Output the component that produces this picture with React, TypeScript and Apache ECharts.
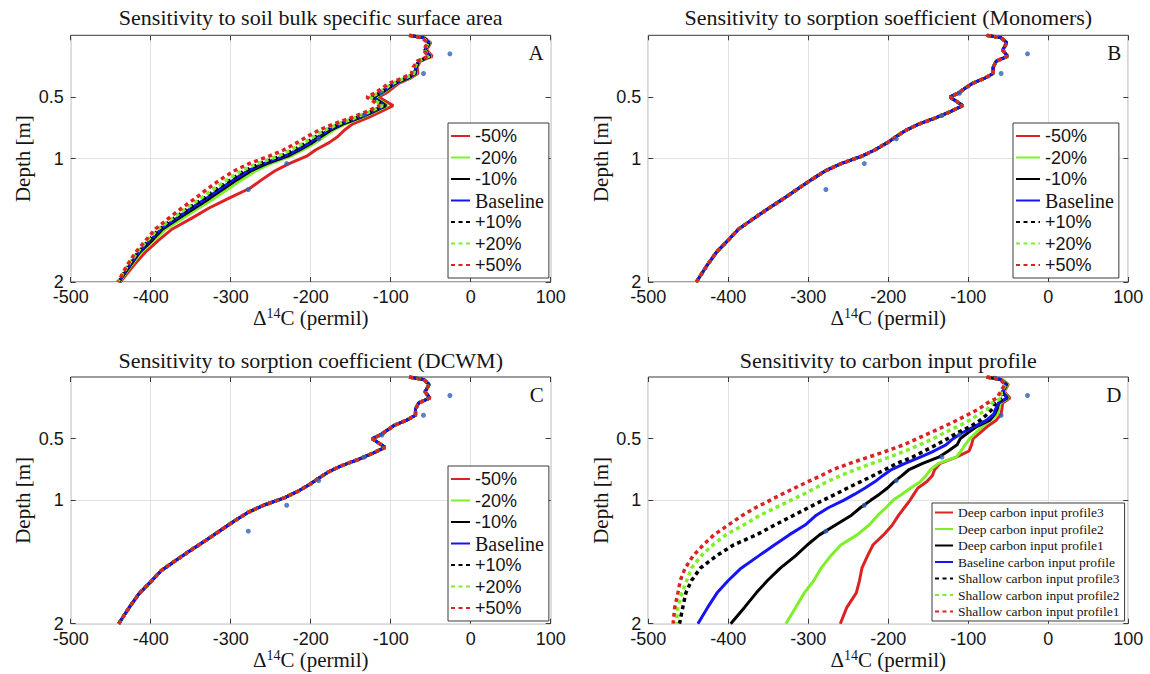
import React, { useEffect, useRef } from 'react';
import * as echarts from 'echarts';

// ---------- data ----------
const depthABC = [0, 0.02, 0.06, 0.12, 0.17, 0.21, 0.26, 0.31, 0.35, 0.39, 0.43, 0.47, 0.5, 0.57, 0.62, 0.67, 0.72, 0.77, 0.82, 0.87, 0.93, 0.98, 1.04, 1.1, 1.17, 1.24, 1.32, 1.4, 1.48, 1.57, 1.66, 1.76, 1.87, 2.0];

const baseline = [-77, -59, -52, -57, -51, -65, -69, -69, -80, -95, -104, -113, -123, -107, -123, -141, -162, -178, -190, -201, -217, -233, -259, -279, -296, -312, -330, -349, -367, -387, -400, -415, -427, -440];

const aMinus50 = [-77, -58, -50, -55, -48, -63, -67, -66, -76, -90, -98, -106, -115, -97, -113, -129, -148, -158, -166, -177, -194, -205, -227, -245, -261, -276, -302, -327, -348, -373, -390, -407, -422, -438];
const aMinus20 = [-77, -58, -51, -56, -50, -64, -68, -68, -78, -93, -102, -110, -120, -104, -120, -137, -157, -172, -183, -194, -210, -225, -250, -269, -286, -302, -320, -340, -359, -381, -396, -412, -425, -439];
const aMinus10 = [-77, -59, -52, -57, -51, -65, -68, -69, -79, -94, -103, -112, -122, -106, -122, -139, -160, -175, -187, -198, -214, -229, -255, -275, -292, -308, -326, -345, -364, -385, -398, -414, -426, -440];
const aPlus10 = [-77, -59, -52, -57, -51, -65, -69, -70, -81, -96, -105, -114, -124, -108, -125, -143, -164, -180, -193, -205, -221, -237, -263, -283, -300, -316, -333, -352, -370, -389, -402, -416, -428, -440];
const aPlus20 = [-77, -60, -53, -58, -52, -66, -70, -71, -83, -98, -107, -116, -126, -110, -127, -145, -166, -183, -196, -208, -225, -241, -267, -287, -304, -320, -337, -355, -372, -391, -404, -417, -429, -441];
const aPlus50 = [-77, -61, -54, -59, -53, -67, -72, -74, -87, -102, -111, -120, -130, -114, -131, -150, -172, -190, -204, -217, -234, -252, -277, -296, -313, -328, -344, -361, -377, -394, -406, -419, -430, -441];

// panels B and C: all seven runs coincide with the baseline
const bRuns = [baseline, baseline, baseline, baseline, baseline, baseline, baseline];
const cRuns = [baseline, baseline, baseline, baseline, baseline, baseline, baseline];
const aRuns = [aMinus50, aMinus20, aMinus10, baseline, aPlus10, aPlus20, aPlus50];

const depthD = [0, 0.02, 0.06, 0.12, 0.17, 0.21, 0.26, 0.3, 0.35, 0.4, 0.45, 0.5, 0.55, 0.6, 0.65, 0.7, 0.75, 0.8, 0.85, 0.9, 0.95, 1.0, 1.06, 1.12, 1.2, 1.28, 1.36, 1.45, 1.55, 1.65, 1.75, 1.87, 2.0];
const deep3 = [-77, -58, -50, -55, -48, -57, -58, -59, -65, -76, -85, -94, -96, -99, -115, -135, -142, -145, -152, -163, -168, -173, -180, -187, -195, -206, -219, -226, -233, -236, -240, -252, -260];
const deep2 = [-77, -59, -51, -56, -50, -60, -62, -63, -72, -82, -90, -98, -104, -109, -115, -137, -147, -153, -160, -172, -183, -194, -203, -213, -224, -239, -259, -272, -284, -293, -305, -316, -328];
const deep1 = [-77, -60, -52, -57, -51, -62, -64, -67, -73, -89, -100, -110, -114, -125, -137, -157, -174, -183, -193, -201, -211, -222, -235, -246, -266, -286, -301, -316, -335, -351, -365, -380, -397];
const baseD = [-69, -60, -53, -57, -52, -62, -66, -68, -77, -92, -107, -119, -128, -143, -160, -179, -196, -207, -217, -229, -242, -256, -275, -290, -304, -324, -342, -362, -384, -400, -414, -426, -438];
const shallow3 = [-77, -60, -53, -58, -56, -66, -70, -76, -85, -97, -113, -126, -140, -155, -170, -189, -204, -219, -235, -251, -266, -282, -300, -318, -342, -365, -393, -415, -435, -446, -453, -457, -461];
const shallow2 = [-77, -60, -53, -59, -58, -70, -76, -86, -98, -113, -129, -144, -161, -179, -199, -220, -241, -260, -277, -291, -306, -322, -341, -360, -381, -403, -419, -434, -446, -452, -458, -463, -465];
const shallow1 = [-77, -60, -54, -60, -64, -76, -87, -99, -114, -130, -147, -164, -181, -202, -225, -248, -269, -284, -301, -317, -333, -348, -366, -382, -400, -418, -431, -444, -454, -460, -463, -467, -469];
const dRuns = [deep3, deep2, deep1, baseD, shallow3, shallow2, shallow1];

const obsDepth = [0.15, 0.31, 0.47, 0.65, 0.84, 1.04, 1.25];
const obsValue = [-26, -59, -111, -133, -190, -230, -278];

const pctNames = ['-50%', '-20%', '-10%', 'Baseline', '+10%', '+20%', '+50%'];
const dNames = [
  'Deep carbon input profile3',
  'Deep carbon input profile2',
  'Deep carbon input profile1',
  'Baseline carbon input profile',
  'Shallow carbon input profile3',
  'Shallow carbon input profile2',
  'Shallow carbon input profile1',
];
const titles = [
  'Sensitivity to soil bulk specific surface area',
  'Sensitivity to sorption soefficient (Monomers)',
  'Sensitivity to sorption coefficient (DCWM)',
  'Sensitivity to carbon input profile',
];
const letters = ['A', 'B', 'C', 'D'];
const yTickValues = [0.5, 1, 2];
const xMin = -500;
const xMax = 100;
const xStep = 100;

// ---------- styling ----------
const SERIF = 'Liberation Serif';
const SANS = 'Liberation Sans';
const RED = '#dc2323';
const GREEN = '#7ef02a';
const BLACK = '#000000';
const BLUE = '#1414f5';
const OBS = '#2e62b8';
const GRIDC = '#e2e2e2';
const AXC = '#3a3a3a';
const TXT = '#151515';
const lineStyles = [
  { color: RED, dotted: false },
  { color: GREEN, dotted: false },
  { color: BLACK, dotted: false },
  { color: BLUE, dotted: false },
  { color: BLACK, dotted: true },
  { color: GREEN, dotted: true },
  { color: RED, dotted: true },
];
const GW = 480;
const GH = 246.7;
const gridPos = [
  [70.7, 35.3],
  [648.3, 35.3],
  [70.7, 377],
  [648.3, 377],
];

function buildOption() {
  const grid: any[] = [];
  const xAxis: any[] = [];
  const yAxis: any[] = [];
  const series: any[] = [];
  const graphic: any[] = [];
  const panelRuns = [aRuns, bRuns, cRuns, dRuns];
  const panelDepths = [depthABC, depthABC, depthABC, depthD];
  const panelNames = [pctNames, pctNames, pctNames, dNames];
  const noLine = { show: false, onZero: false };

  gridPos.forEach(([l, t], p) => {
    grid.push({
      left: l, top: t, width: GW, height: GH, show: true,
      borderColor: AXC, borderWidth: 1, backgroundColor: '#fff', containLabel: false,
    });
    xAxis.push({
      type: 'value', gridIndex: p, position: 'bottom', min: xMin, max: xMax, interval: xStep,
      axisLine: noLine,
      axisTick: { show: true, inside: true, length: 5, lineStyle: { color: AXC } },
      axisLabel: { fontFamily: SANS, fontSize: 18, color: TXT, margin: 6 },
      splitLine: { show: true, lineStyle: { color: GRIDC, width: 1 } },
      name: 'Δ{sup|14}C (permil)', nameLocation: 'middle', nameGap: 24,
      nameTextStyle: {
        fontFamily: SERIF, fontSize: 21, color: TXT, lineHeight: 23,
        rich: { sup: { fontFamily: SERIF, fontSize: 14, lineHeight: 14, verticalAlign: 'top', color: TXT } },
      },
    });
    xAxis.push({
      type: 'value', gridIndex: p, position: 'top', min: xMin, max: xMax, interval: xStep,
      axisLine: noLine,
      axisTick: { show: true, inside: true, length: 5, lineStyle: { color: AXC } },
      axisLabel: { show: false }, splitLine: { show: false },
    });
    yAxis.push({
      type: 'value', gridIndex: p, position: 'left', inverse: true, min: 0, max: 2, interval: 0.5,
      axisLine: noLine,
      axisTick: { show: true, inside: true, length: 5, customValues: yTickValues, lineStyle: { color: AXC } },
      axisLabel: {
        fontFamily: SANS, fontSize: 18, color: TXT, margin: 7,
        formatter: (v: number) => (yTickValues.indexOf(v) >= 0 ? String(v) : ''),
      },
      splitLine: {
        show: true,
        lineStyle: { color: ['rgba(0,0,0,0)', GRIDC, GRIDC, 'rgba(0,0,0,0)', 'rgba(0,0,0,0)'], width: 1 },
      },
      name: 'Depth [m]', nameLocation: 'middle', nameGap: 37,
      nameTextStyle: { fontFamily: SERIF, fontSize: 21, color: TXT },
    });
    yAxis.push({
      type: 'value', gridIndex: p, position: 'right', inverse: true, min: 0, max: 2, interval: 0.5,
      axisLine: noLine,
      axisTick: { show: true, inside: true, length: 5, customValues: yTickValues, lineStyle: { color: AXC } },
      axisLabel: { show: false }, splitLine: { show: false },
    });

    const runs = panelRuns[p];
    const depths = panelDepths[p];
    runs.forEach((vals, k) => {
      const st = lineStyles[k];
      series.push({
        type: 'line',
        name: panelNames[p][k],
        xAxisIndex: p * 2,
        yAxisIndex: p * 2,
        data: vals.map((v, i) => [v, depths[i]]),
        symbol: 'none',
        showSymbol: false,
        silent: true,
        lineStyle: { color: st.color, width: st.dotted ? 3.5 : 3, type: st.dotted ? [4, 3.5] : 'solid', cap: 'butt' },
        itemStyle: { color: st.color },
        z: 2 + k,
      });
    });
    series.push({
      type: 'scatter',
      name: 'obs' + p,
      xAxisIndex: p * 2,
      yAxisIndex: p * 2,
      data: obsValue.map((v, i) => [v, obsDepth[i]]),
      symbol: 'circle',
      symbolSize: 5,
      itemStyle: { color: OBS },
      silent: true,
      z: 20,
    });

    graphic.push({
      type: 'text', x: l + GW / 2, y: p < 2 ? 17 : 360,
      style: {
        text: titles[p], fill: TXT, font: `22px "${SERIF}"`,
        align: 'center', verticalAlign: 'middle', textAlign: 'center', textVerticalAlign: 'middle',
      },
    });
    graphic.push({
      type: 'text', x: l + GW - 7, y: t + 18, z: 50,
      style: {
        text: letters[p], fill: TXT, font: `21px "${SERIF}"`,
        align: 'right', verticalAlign: 'middle', textAlign: 'right', textVerticalAlign: 'middle',
      },
    });
  });

  const hiddenSymbol = { opacity: 0, color: 'rgba(0,0,0,0)', borderWidth: 0 };
  const pctLegend = (left: number, top: number, iw: number) => ({
    orient: 'vertical', left, top, padding: [3, 5, 3, 2], itemGap: 1.5, itemWidth: iw, itemHeight: 12,
    borderColor: AXC, borderWidth: 1, backgroundColor: '#fff', selectedMode: false,
    itemStyle: hiddenSymbol,
    data: pctNames.map((n) =>
      n === 'Baseline'
        ? { name: n, textStyle: { fontFamily: SERIF, fontSize: 20, lineHeight: 20, color: TXT } }
        : { name: n, textStyle: { fontFamily: SANS, fontSize: 18, lineHeight: 20, color: TXT } }
    ),
    textStyle: { color: TXT, fontFamily: SERIF, fontSize: 20, lineHeight: 20 },
  });

  const legend = [
    pctLegend(448, 123, 19),
    pctLegend(1013, 123, 24),
    pctLegend(448, 466, 19),
    {
      orient: 'vertical', left: 932, top: 503, padding: [2, 5, 2, 2], itemGap: 1.5, itemWidth: 18, itemHeight: 10,
      borderColor: AXC, borderWidth: 1, backgroundColor: '#fff', selectedMode: false,
      itemStyle: hiddenSymbol,
      data: dNames,
      textStyle: { color: TXT, fontFamily: SERIF, fontSize: 13.5, lineHeight: 15 },
    },
  ];

  return {
    animation: false,
    backgroundColor: '#fff',
    grid, xAxis, yAxis, series, legend, graphic,
  };
}

export default function App() {
  const ref = useRef<HTMLDivElement>(null);
  useEffect(() => {
    if (!ref.current) return;
    const chart = echarts.init(ref.current, null, { renderer: 'svg' });
    chart.setOption(buildOption() as any);
    return () => chart.dispose();
  }, []);
  return (
    <div
      ref={ref}
      style={{ position: 'fixed', left: 0, top: 0, width: 1150, height: 674, background: '#fff' }}
    />
  );
}
